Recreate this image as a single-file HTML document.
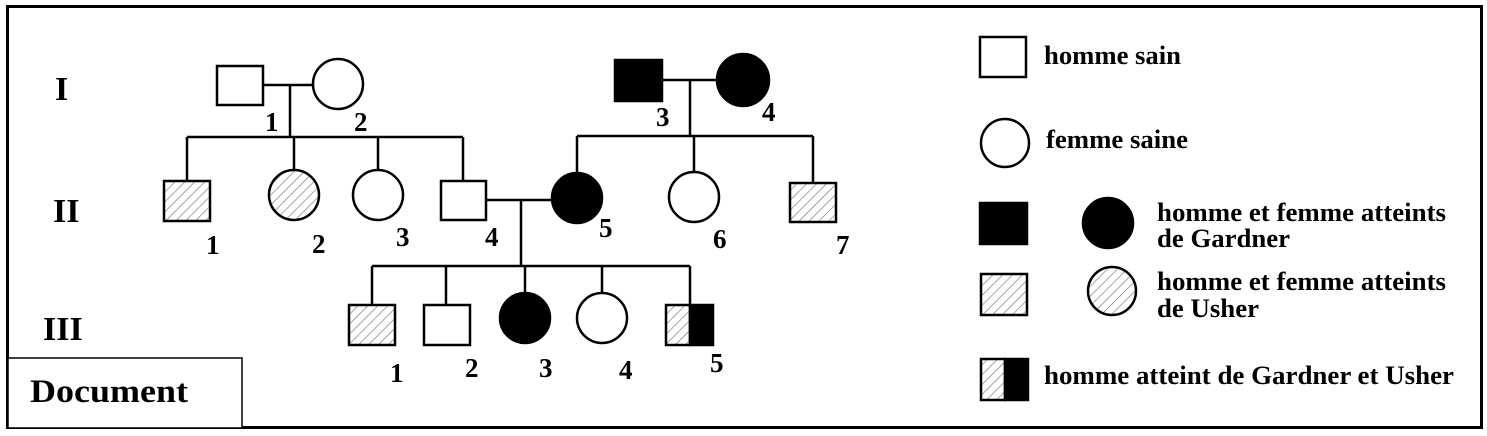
<!DOCTYPE html>
<html><head><meta charset="utf-8"><style>
html,body{margin:0;padding:0;background:#fff;}
svg{display:block;}
text{font-family:"Liberation Serif","Times New Roman",serif;font-weight:bold;fill:#000;}
</style></head><body>
<svg width="1487" height="436" viewBox="0 0 1487 436" xmlns="http://www.w3.org/2000/svg">
<defs>
<pattern id="h" patternUnits="userSpaceOnUse" width="7" height="7" patternTransform="rotate(45)">
<rect width="7" height="7" fill="#fff"/>
<line x1="0" y1="0" x2="0" y2="7" stroke="#777" stroke-width="1.3"/>
</pattern>
</defs>
<rect x="7.5" y="6.5" width="1474" height="421" fill="#fff" stroke="#000" stroke-width="3"/>
<rect x="8" y="358" width="234" height="70" fill="#fff" stroke="#000" stroke-width="1.5"/>
<text x="30" y="402" font-size="33" textLength="158" lengthAdjust="spacingAndGlyphs">Document</text>
<text x="55" y="100" font-size="34">I</text>
<text x="53" y="222" font-size="34">II</text>
<text x="43" y="340" font-size="34">III</text>

<g stroke="#000" stroke-width="2.5" fill="none">
<line x1="263" y1="85" x2="313" y2="85"/>
<line x1="290" y1="85" x2="290" y2="137"/>
<line x1="187" y1="137" x2="463" y2="137"/>
<line x1="187" y1="137" x2="187" y2="181"/>
<line x1="294" y1="137" x2="294" y2="170"/>
<line x1="378" y1="137" x2="378" y2="170"/>
<line x1="463" y1="137" x2="463" y2="181"/>
<line x1="662" y1="80" x2="717" y2="80"/>
<line x1="690" y1="80" x2="690" y2="136"/>
<line x1="577" y1="136" x2="813" y2="136"/>
<line x1="577" y1="136" x2="577" y2="172"/>
<line x1="694" y1="136" x2="694" y2="172"/>
<line x1="813" y1="136" x2="813" y2="183"/>
<line x1="486" y1="200" x2="552" y2="200"/>
<line x1="521" y1="200" x2="521" y2="266"/>
<line x1="372" y1="266" x2="690" y2="266"/>
<line x1="372" y1="266" x2="372" y2="305"/>
<line x1="446" y1="266" x2="446" y2="305"/>
<line x1="525" y1="266" x2="525" y2="293"/>
<line x1="602" y1="266" x2="602" y2="293"/>
<line x1="690" y1="266" x2="690" y2="305"/>
</g>

<g stroke="#000" stroke-width="2.5">
<rect x="217" y="66" width="46" height="39" fill="#fff"/>
<circle cx="338" cy="84" r="25" fill="#fff"/>
<rect x="615" y="60" width="47" height="41" fill="#000"/>
<circle cx="743" cy="80" r="26" fill="#000"/>
<rect x="164" y="181" width="46" height="40" fill="url(#h)"/>
<circle cx="294" cy="195" r="25" fill="url(#h)"/>
<circle cx="378" cy="195" r="25" fill="#fff"/>
<rect x="441" y="181" width="45" height="39" fill="#fff"/>
<circle cx="577" cy="198" r="25" fill="#000"/>
<circle cx="694" cy="197" r="25" fill="#fff"/>
<rect x="790" y="183" width="46" height="39" fill="url(#h)"/>
<rect x="349" y="305" width="46" height="40" fill="url(#h)"/>
<rect x="424" y="305" width="46" height="40" fill="#fff"/>
<circle cx="525" cy="318" r="25" fill="#000"/>
<circle cx="602" cy="318" r="25" fill="#fff"/>
<rect x="666" y="305" width="24" height="40" fill="url(#h)"/>
<rect x="690" y="305" width="23" height="40" fill="#000"/>
<rect x="980" y="37" width="46" height="40" fill="#fff"/>
<circle cx="1005" cy="143" r="24" fill="#fff"/>
<rect x="980" y="203" width="47" height="41" fill="#000"/>
<circle cx="1108" cy="223" r="25" fill="#000"/>
<rect x="981" y="274" width="46" height="41" fill="url(#h)"/>
<circle cx="1112" cy="291" r="24" fill="url(#h)"/>
<rect x="981" y="359" width="24" height="41" fill="url(#h)"/>
<rect x="1005" y="359" width="23" height="41" fill="#000"/>
</g>

<g font-size="27">
<text x="265" y="131">1</text>
<text x="354" y="131">2</text>
<text x="656" y="126">3</text>
<text x="762" y="121">4</text>
<text x="206" y="254">1</text>
<text x="312" y="253">2</text>
<text x="396" y="246">3</text>
<text x="485" y="246">4</text>
<text x="599" y="237">5</text>
<text x="713" y="248">6</text>
<text x="836" y="254">7</text>
<text x="390" y="382">1</text>
<text x="465" y="377">2</text>
<text x="539" y="377">3</text>
<text x="619" y="379">4</text>
<text x="710" y="372">5</text>
</g>

<g font-size="26">
<text x="1044" y="64" textLength="137" lengthAdjust="spacingAndGlyphs">homme sain</text>
<text x="1046" y="148" textLength="142" lengthAdjust="spacingAndGlyphs">femme saine</text>
<text x="1157" y="221" textLength="289" lengthAdjust="spacingAndGlyphs">homme et femme atteints</text>
<text x="1157" y="247" textLength="133" lengthAdjust="spacingAndGlyphs">de Gardner</text>
<text x="1157" y="290" textLength="289" lengthAdjust="spacingAndGlyphs">homme et femme atteints</text>
<text x="1157" y="317" textLength="102" lengthAdjust="spacingAndGlyphs">de Usher</text>
<text x="1044" y="384" textLength="410" lengthAdjust="spacingAndGlyphs">homme atteint de Gardner et Usher</text>
</g>
</svg>
</body></html>
